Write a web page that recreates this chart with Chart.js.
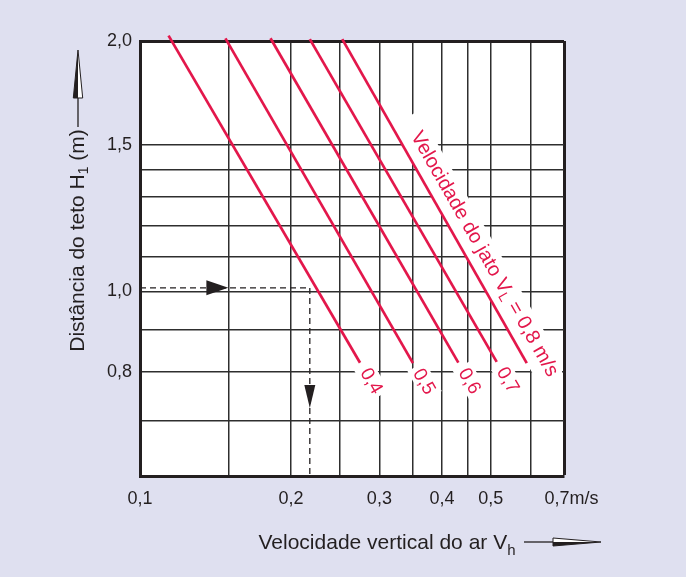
<!DOCTYPE html>
<html>
<head>
<meta charset="utf-8">
<script src="https://cdn.jsdelivr.net/npm/chart.js@4"></script>
<style>
  html, body { margin: 0; padding: 0; background: #dfe0f0; }
  canvas { display: block; }
</style>
</head>
<body>
<canvas id="chart" width="686" height="577"></canvas>
<script>
// velocidade do jato V_L (m/s) de cada reta
const jetLabels = ['0,4', '0,5', '0,6', '0,7', '0,8'];
// extremos das retas: Vh (m/s) e H1 (m)
const topVh = [0.114, 0.148, 0.182, 0.218, 0.253];
const topH = [2.03, 2.015, 2.015, 2.01, 2.01];
const bottomVh = [0.2745, 0.35, 0.431, 0.514, 0.59];
const bottomH = [0.821, 0.82, 0.821, 0.823, 0.82];

// exemplo tracejado: H1 = 1,0 m  ->  Vh ~ 0,22 m/s
const exampleVh = [0.1, 0.218, 0.218];
const exampleH = [1.01, 1.01, 0.6];
const arrowVh = [0.15, 0.218];
const arrowH = [1.01, 0.724];

// grade e rótulos dos eixos
const xGrid = [0.1, 0.15, 0.2, 0.25, 0.3, 0.35, 0.4, 0.45, 0.5, 0.6, 0.7];
const xLabelValues = [0.1, 0.2, 0.3, 0.4, 0.5, 0.7];
const xLabelTexts = ['0,1', '0,2', '0,3', '0,4', '0,5', '   0,7m/s'];
const yGrid = [0.6, 0.7, 0.8, 0.9, 1.0, 1.1, 1.2, 1.3, 1.4, 1.5, 2.0];
const yLabelValues = [0.8, 1.0, 1.5, 2.0];
const yLabelTexts = ['0,8', '1,0', '1,5', '2,0'];

const FONT = '"Liberation Sans", Arial, Helvetica, sans-serif';
const RED = '#e3174b';
const INK = '#231f20';
const GRID = '#2e2e2e';

function lineGeom(chart, i) {
    const xs = chart.scales.x, ys = chart.scales.y;
    const x1 = xs.getPixelForValue(topVh[i]), y1 = ys.getPixelForValue(topH[i]);
    const x2 = xs.getPixelForValue(bottomVh[i]), y2 = ys.getPixelForValue(bottomH[i]);
    const len = Math.hypot(x2 - x1, y2 - y1);
    const dx = (x2 - x1) / len, dy = (y2 - y1) / len;
    return { x1, y1, x2, y2, dx, dy, angle: Math.atan2(dy, dx) };
}

// posição (centro) e caixa branca de cada rótulo das retas
function labelBoxes(chart) {
    const boxes = [];
    for (let i = 0; i < jetLabels.length - 1; i++) {
        const g = lineGeom(chart, i);
        boxes.push({ i, cx: g.x2 + g.dx * 21.5, cy: g.y2 + g.dy * 21.5, angle: g.angle,
            box: [-17, -11, 34, 20] });
    }
    const g = lineGeom(chart, jetLabels.length - 1);
    boxes.push({ i: jetLabels.length - 1, long: true,
        cx: g.x1 + g.dx * 257 + g.dy * 17, cy: g.y1 + g.dy * 257 - g.dx * 17,
        angle: g.angle, box: [-157, -14, 312, 31] });
    return boxes;
}

function drawParts(ctx, parts, x, y, size, subSize, shift) {
    parts.forEach(p => {
        ctx.font = (p.sub ? subSize : size) + 'px ' + FONT;
        ctx.fillText(p.t, x, y + (p.sub ? shift : 0));
        x += ctx.measureText(p.t).width;
    });
}

function partsWidth(ctx, parts, size, subSize) {
    let w = 0;
    parts.forEach(p => {
        ctx.font = (p.sub ? subSize : size) + 'px ' + FONT;
        w += ctx.measureText(p.t).width;
    });
    return w;
}

const decor = {
    id: 'decor',
    beforeDraw(chart) {
        const { ctx, chartArea: a } = chart;
        ctx.save();
        ctx.fillStyle = '#fff';
        ctx.fillRect(a.left, a.top, a.right - a.left, a.bottom - a.top);
        ctx.restore();
    },
    beforeDatasetsDraw(chart) {
        const { ctx, chartArea: a } = chart;
        ctx.save();
        ctx.beginPath();
        ctx.rect(a.left + 2, a.top + 2, a.right - a.left - 4, a.bottom - a.top - 4);
        ctx.clip();
        ctx.fillStyle = '#fff';
        labelBoxes(chart).forEach(b => {
            ctx.save();
            ctx.translate(b.cx, b.cy);
            ctx.rotate(b.angle);
            ctx.fillRect(b.box[0], b.box[1], b.box[2], b.box[3]);
            ctx.restore();
        });
        ctx.restore();
    },
    afterDatasetsDraw(chart) {
        const { ctx } = chart;
        const xs = chart.scales.x, ys = chart.scales.y;
        ctx.save();
        ctx.fillStyle = RED;
        ctx.textBaseline = 'middle';
        labelBoxes(chart).forEach(b => {
            ctx.save();
            ctx.translate(b.cx, b.cy);
            ctx.rotate(b.angle);
            if (b.long) {
                const parts = [{ t: 'Velocidade do jato V' }, { t: 'L', sub: true },
                    { t: ' = ' + jetLabels[b.i] + ' m/s' }];
                const w = partsWidth(ctx, parts, 20, 14);
                drawParts(ctx, parts, -w / 2, 0, 20, 14, 5);
            } else {
                ctx.font = '19px ' + FONT;
                ctx.textAlign = 'center';
                ctx.fillText(jetLabels[b.i], 0, 0);
            }
            ctx.restore();
        });

        // setas do exemplo tracejado
        ctx.fillStyle = INK;
        let px = xs.getPixelForValue(arrowVh[0]), py = ys.getPixelForValue(arrowH[0]);
        ctx.beginPath();
        ctx.moveTo(px, py);
        ctx.lineTo(px - 22, py - 7.5);
        ctx.lineTo(px - 22, py + 7.5);
        ctx.closePath();
        ctx.fill();
        px = xs.getPixelForValue(arrowVh[1]); py = ys.getPixelForValue(arrowH[1]);
        ctx.beginPath();
        ctx.moveTo(px, py);
        ctx.lineTo(px - 5.5, py - 23);
        ctx.lineTo(px + 5.5, py - 23);
        ctx.closePath();
        ctx.fill();
        ctx.restore();
    },
    afterDraw(chart) {
        const { ctx } = chart;
        ctx.save();
        ctx.fillStyle = INK;
        ctx.strokeStyle = INK;
        ctx.textBaseline = 'alphabetic';

        // título do eixo y
        const yParts = [{ t: 'Distância do teto H' }, { t: '1', sub: true }, { t: ' (m)' }];
        ctx.save();
        ctx.translate(83.5, 240.5);
        ctx.rotate(-Math.PI / 2);
        const wy = partsWidth(ctx, yParts, 21, 14);
        drawParts(ctx, yParts, -wy / 2, 0, 21, 14, 4);
        ctx.restore();

        // seta do eixo y
        ctx.lineWidth = 1.3;
        ctx.beginPath();
        ctx.moveTo(78, 127);
        ctx.lineTo(78, 97);
        ctx.stroke();
        ctx.fillStyle = '#fff';
        ctx.beginPath();
        ctx.moveTo(78, 50); ctx.lineTo(82.7, 98); ctx.lineTo(73.3, 98); ctx.closePath();
        ctx.fill();
        ctx.lineWidth = 1;
        ctx.stroke();
        ctx.fillStyle = INK;
        ctx.beginPath();
        ctx.moveTo(78, 50); ctx.lineTo(78, 98); ctx.lineTo(73.3, 98); ctx.closePath();
        ctx.fill();

        // título do eixo x
        const xParts = [{ t: 'Velocidade vertical do ar V' }, { t: 'h', sub: true }];
        drawParts(ctx, xParts, 258.5, 549, 21, 15, 6);

        // seta do eixo x
        ctx.lineWidth = 1.3;
        ctx.beginPath();
        ctx.moveTo(524, 542);
        ctx.lineTo(554, 542);
        ctx.stroke();
        ctx.fillStyle = '#fff';
        ctx.beginPath();
        ctx.moveTo(601, 542); ctx.lineTo(553, 538); ctx.lineTo(553, 546); ctx.closePath();
        ctx.fill();
        ctx.lineWidth = 1;
        ctx.stroke();
        ctx.fillStyle = INK;
        ctx.beginPath();
        ctx.moveTo(601, 542); ctx.lineTo(553, 542); ctx.lineTo(553, 546); ctx.closePath();
        ctx.fill();
        ctx.restore();
    }
};

const jetSets = jetLabels.map((lab, i) => ({
    label: 'V_L = ' + lab,
    data: [{ x: topVh[i], y: topH[i] }, { x: bottomVh[i], y: bottomH[i] }],
    borderColor: RED,
    borderWidth: 2.7,
    pointRadius: 0,
    clip: false
}));

const exampleSet = {
    label: 'exemplo',
    data: exampleVh.map((v, i) => ({ x: v, y: exampleH[i] })),
    borderColor: INK,
    borderWidth: 1.3,
    borderDash: [6, 4],
    pointRadius: 0
};

new Chart(document.getElementById('chart').getContext('2d'), {
    type: 'line',
    data: { datasets: [...jetSets, exampleSet] },
    options: {
        responsive: false,
        animation: false,
        devicePixelRatio: 1,
        events: [],
        layout: { padding: { top: 41, right: 122, bottom: 0, left: 0 } },
        plugins: { legend: { display: false }, tooltip: { enabled: false } },
        scales: {
            x: {
                type: 'logarithmic',
                min: 0.1,
                max: 0.7,
                afterBuildTicks: s => { s.ticks = xGrid.map(v => ({ value: v })); },
                afterFit: s => { s.height = 101; },
                ticks: {
                    autoSkip: false,
                    maxRotation: 0,
                    padding: 12,
                    color: INK,
                    font: { family: FONT, size: 18 },
                    callback: v => {
                        const i = xLabelValues.indexOf(v);
                        return i >= 0 ? xLabelTexts[i] : '';
                    }
                },
                grid: {
                    drawTicks: false,
                    color: c => (c.tick && c.tick.value === 0.7) ? INK : GRID,
                    lineWidth: c => (c.tick && c.tick.value === 0.7) ? 3 : 1.5
                },
                border: { display: true, color: INK, width: 3 }
            },
            y: {
                type: 'logarithmic',
                min: 0.6,
                max: 2.0,
                afterBuildTicks: s => { s.ticks = yGrid.map(v => ({ value: v })); },
                afterFit: s => { s.width = 140; },
                ticks: {
                    autoSkip: false,
                    padding: 8,
                    color: INK,
                    font: { family: FONT, size: 18 },
                    callback: v => {
                        const i = yLabelValues.indexOf(v);
                        return i >= 0 ? yLabelTexts[i] : '';
                    }
                },
                grid: {
                    drawTicks: false,
                    color: c => (c.tick && c.tick.value === 2.0) ? INK : GRID,
                    lineWidth: c => (c.tick && c.tick.value === 2.0) ? 3 : 1.5
                },
                border: { display: true, color: INK, width: 3 }
            }
        }
    },
    plugins: [decor]
});
</script>
</body>
</html>
